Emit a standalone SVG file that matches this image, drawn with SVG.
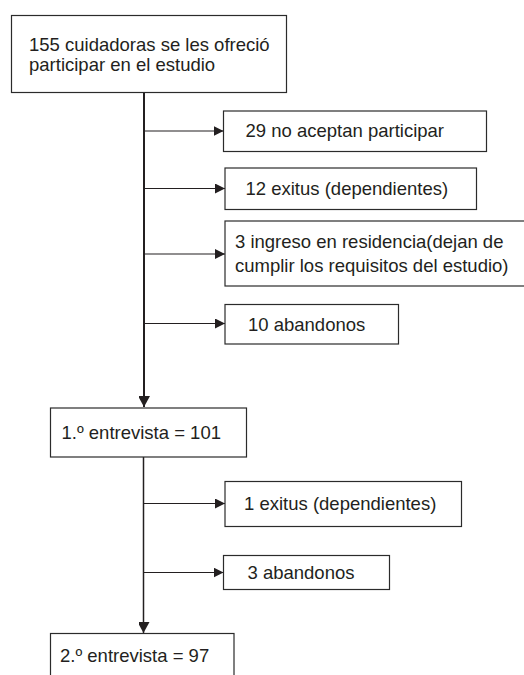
<svg xmlns="http://www.w3.org/2000/svg" width="524" height="675" viewBox="0 0 524 675">
<defs>
<style>
.box{fill:#fff;stroke:#2b2b2b;stroke-width:1.2}
.t{font-family:"Liberation Sans",Arial,sans-serif;font-size:18.5px;fill:#231f20}
.ln{stroke:#231f20;fill:none}
</style>
<marker id="ah" markerWidth="10" markerHeight="10" refX="10" refY="5" orient="auto" markerUnits="userSpaceOnUse">
<path d="M0,0 L10,5 L0,10 Z" fill="#231f20"/>
</marker>
<marker id="av" markerWidth="12" markerHeight="11" refX="11" refY="6" orient="auto" markerUnits="userSpaceOnUse">
<path d="M0,0 L11,6 L0,12 Z" fill="#231f20"/>
</marker>
</defs>
<rect width="524" height="675" fill="#fff"/>
<g id="connectors">
<line class="ln" x1="144" y1="93" x2="144" y2="407" stroke-width="2" marker-end="url(#av)"/>
<line class="ln" x1="144" y1="131" x2="223.5" y2="131" stroke-width="1.2" marker-end="url(#ah)"/>
<line class="ln" x1="144" y1="188.5" x2="225" y2="188.5" stroke-width="1.2" marker-end="url(#ah)"/>
<line class="ln" x1="144" y1="254" x2="225" y2="254" stroke-width="1.2" marker-end="url(#ah)"/>
<line class="ln" x1="144" y1="323.5" x2="225" y2="323.5" stroke-width="1.2" marker-end="url(#ah)"/>
<line class="ln" x1="143.5" y1="457" x2="143.5" y2="633" stroke-width="1.5" marker-end="url(#av)"/>
<line class="ln" x1="143.5" y1="503.5" x2="225" y2="503.5" stroke-width="1.2" marker-end="url(#ah)"/>
<line class="ln" x1="143.5" y1="572.5" x2="223.5" y2="572.5" stroke-width="1.2" marker-end="url(#ah)"/>
</g>
<g id="n-start">
<rect class="box" x="11.5" y="15.5" width="275" height="77"/>
<text class="t" x="29" y="50.5">155 cuidadoras se les ofreció</text>
<text class="t" x="29" y="71">participar en el estudio</text>
</g>
<g id="n-noacept">
<rect class="box" x="223.5" y="111" width="263" height="40.5"/>
<text class="t" x="245.5" y="137">29 no aceptan participar</text>
</g>
<g id="n-exitus12">
<rect class="box" x="225" y="168" width="251.5" height="41.5"/>
<text class="t" x="245.5" y="195">12 exitus (dependientes)</text>
</g>
<g id="n-residencia">
<rect class="box" x="225" y="221" width="305" height="65"/>
<text class="t" x="235" y="248">3 ingreso en residencia(dejan de</text>
<text class="t" x="235" y="271.5">cumplir los requisitos del estudio)</text>
</g>
<g id="n-aband10">
<rect class="box" x="225" y="304.5" width="173.5" height="39.5"/>
<text class="t" x="248" y="330.5">10 abandonos</text>
</g>
<g id="n-ent1">
<rect class="box" x="50.5" y="408" width="196" height="49"/>
<text class="t" x="61.5" y="439">1.º entrevista = 101</text>
</g>
<g id="n-exitus1">
<rect class="box" x="225" y="481.5" width="236.5" height="45"/>
<text class="t" x="244" y="510">1 exitus (dependientes)</text>
</g>
<g id="n-aband3">
<rect class="box" x="223.5" y="555.5" width="166" height="34"/>
<text class="t" x="247.5" y="579">3 abandonos</text>
</g>
<g id="n-ent2">
<rect class="box" x="50.5" y="633.5" width="183.5" height="50"/>
<text class="t" x="60" y="661.5">2.º entrevista = 97</text>
</g>
</svg>
